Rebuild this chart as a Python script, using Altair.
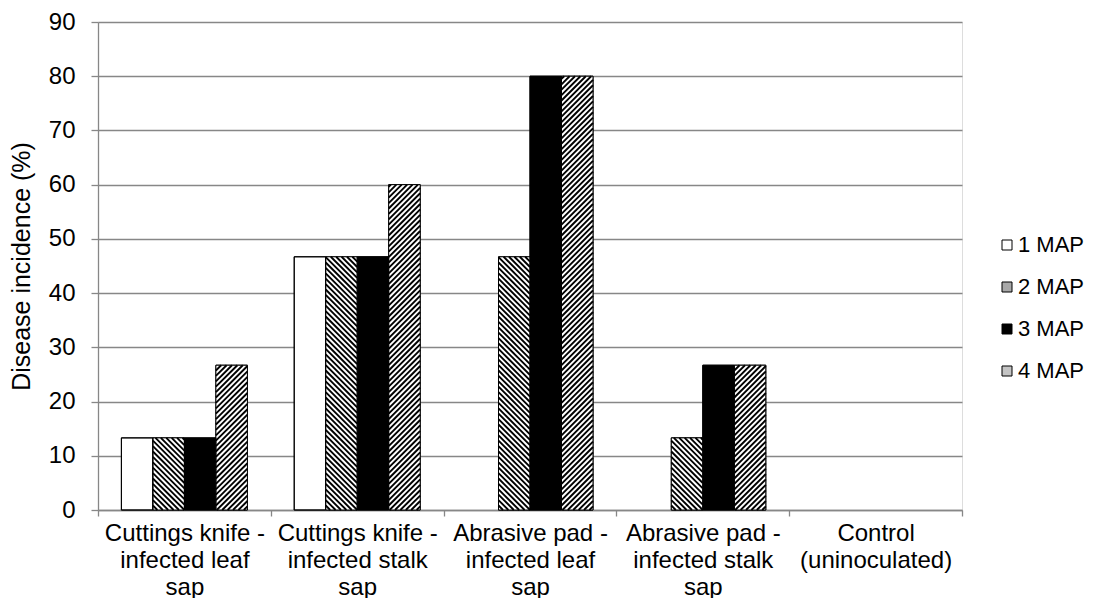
import math
import altair as alt
import pandas as pd

# ---------------- data ----------------
CATEGORIES = [
    "Cuttings knife -|infected leaf|sap",
    "Cuttings knife -|infected stalk|sap",
    "Abrasive pad -|infected leaf|sap",
    "Abrasive pad -|infected stalk|sap",
    "Control|(uninoculated)",
]
SERIES = ["1 MAP", "2 MAP", "3 MAP", "4 MAP"]
MAP1 = [13.3, 46.7, 0, 0, 0]
MAP2 = [13.3, 46.7, 46.7, 13.3, 0]
MAP3 = [13.3, 46.7, 80, 26.7, 0]
MAP4 = [26.7, 60, 80, 26.7, 0]
Y_TICKS = [0, 10, 20, 30, 40, 50, 60, 70, 80, 90]
Y_TITLE = "Disease incidence (%)"

VALUES = {"1 MAP": MAP1, "2 MAP": MAP2, "3 MAP": MAP3, "4 MAP": MAP4}

rows = []
for s in SERIES:
    for c, v in zip(CATEGORIES, VALUES[s]):
        rows.append({"category": c, "series": s, "value": v})
df = pd.DataFrame(rows)

# ---------------- layout / style ----------------
W, H = 864, 488
YMAX = 90
PO = 0.743            # outer padding of the series band (in steps)
GRAY = "#878787"
FONT = "Liberation Sans"
LEGEND_FILL = ["#ffffff", "#a8a8a8", "#000000", "#c4c4c4"]
HATCH = {"2 MAP": "back", "4 MAP": "fwd"}
PERIOD = 5.4

# hatch stripes, built from the bar values (decoration only)
NCAT = len(CATEGORIES)
band = W / NCAT
step = band / (len(SERIES) + 2 * PO)
kx = band
ky = H / YMAX
hrows = []
for i, cat in enumerate(CATEGORIES):
    for j, s in enumerate(SERIES):
        val = VALUES[s][i]
        if s not in HATCH or val <= 0:
            continue
        u0 = band * i + step * (PO + j)
        u1 = u0 + step
        v0, v1 = 0.0, val * ky
        if HATCH[s] == "back":           # v + u = c
            cmin, cmax = u0 + v0, u1 + v1
            k = math.ceil(cmin / PERIOD)
            while k * PERIOD < cmax:
                c = k * PERIOD
                ua = max(u0, c - v1)
                ub = min(u1, c - v0)
                if ub - ua > 0.4:
                    hrows.append({"x": ua / kx, "x2": ub / kx,
                                  "y": (c - ua) / ky, "y2": (c - ub) / ky})
                k += 1
        else:                             # v - u = c
            cmin, cmax = v0 - u1, v1 - u0
            k = math.ceil(cmin / PERIOD)
            while k * PERIOD < cmax:
                c = k * PERIOD
                ua = max(u0, v0 - c)
                ub = min(u1, v1 - c)
                if ub - ua > 0.4:
                    hrows.append({"x": ua / kx, "x2": ub / kx,
                                  "y": (ua + c) / ky, "y2": (ub + c) / ky})
                k += 1
hdf = pd.DataFrame(hrows)

xscale = alt.Scale(domain=CATEGORIES, paddingInner=0, paddingOuter=0)
xoff = alt.XOffset("series:N", scale=alt.Scale(domain=SERIES, paddingInner=0, paddingOuter=PO))
yscale = alt.Scale(domain=[0, YMAX], nice=False, zero=True)

x_axis = alt.Axis(
    title=None, labelExpr="split(datum.label, '|')", labelAngle=0,
    labelFontSize=24, labelLineHeight=27, labelColor="black", labelFont=FONT,
    labelPadding=5, labelLimit=400, labelOverlap=False,
    tickBand="extent", tickSize=6, tickColor=GRAY, tickWidth=1.3,
    domainColor=GRAY, domainWidth=1.3, grid=False,
)
y_axis = alt.Axis(
    values=Y_TICKS, grid=True, gridColor=GRAY, gridWidth=1.3,
    domainColor=GRAY, domainWidth=1.3, tickColor=GRAY, tickWidth=1.3, tickSize=7,
    labelFontSize=24, labelFont=FONT, labelColor="black", labelPadding=16,
    titleFontSize=25, titleFont=FONT, titleFontWeight="normal", titleColor="black",
    titlePadding=14, title=Y_TITLE,
)

base = alt.Chart(df).transform_filter("datum.value > 0")

bars = base.mark_bar(stroke="black", strokeWidth=1).encode(
    x=alt.X("category:N", scale=xscale, axis=x_axis, sort=CATEGORIES),
    xOffset=xoff,
    y=alt.Y("value:Q", scale=yscale, axis=y_axis),
    fill=alt.Fill(
        "series:N",
        scale=alt.Scale(domain=SERIES, range=LEGEND_FILL),
        legend=alt.Legend(
            title=None, orient="none", direction="vertical",
            legendX=898, legendY=212, padding=0,
            symbolType="square", symbolSize=100, symbolStrokeColor="black",
            symbolStrokeWidth=1, labelFontSize=22, labelFont=FONT,
            labelColor="black", labelOffset=0, rowPadding=20,
        ),
    ),
)

white = base.transform_filter(
    alt.FieldOneOfPredicate(field="series", oneOf=list(HATCH.keys()))
).mark_bar(fill="white", strokeWidth=0).encode(
    x=alt.X("category:N", scale=xscale, axis=None, sort=CATEGORIES),
    xOffset=xoff,
    y=alt.Y("value:Q", scale=yscale, axis=y_axis),
)

hatch = alt.Chart(hdf).mark_rule(color="black", strokeWidth=1.9).encode(
    x=alt.X("x:Q", scale=alt.Scale(domain=[0, NCAT], nice=False, zero=False), axis=None),
    x2="x2:Q",
    y=alt.Y("y:Q", scale=yscale, axis=y_axis),
    y2="y2:Q",
)

outline = base.mark_bar(fill="white", fillOpacity=0, stroke="black", strokeWidth=1).encode(
    x=alt.X("category:N", scale=xscale, axis=None, sort=CATEGORIES),
    xOffset=xoff,
    y=alt.Y("value:Q", scale=yscale, axis=y_axis),
)

chart = (
    alt.layer(bars, white, hatch, outline)
    .resolve_scale(x="independent")
    .properties(
        width=W, height=H,
        padding={"left": 90, "top": 14, "right": 124, "bottom": 88},
        autosize=alt.AutoSizeParams(type="none"),
    )
    .configure_view(strokeWidth=0, stroke="transparent")
    .configure(font=FONT)
)

chart.save("out.html", embed_options={"renderer": "svg", "actions": False})
